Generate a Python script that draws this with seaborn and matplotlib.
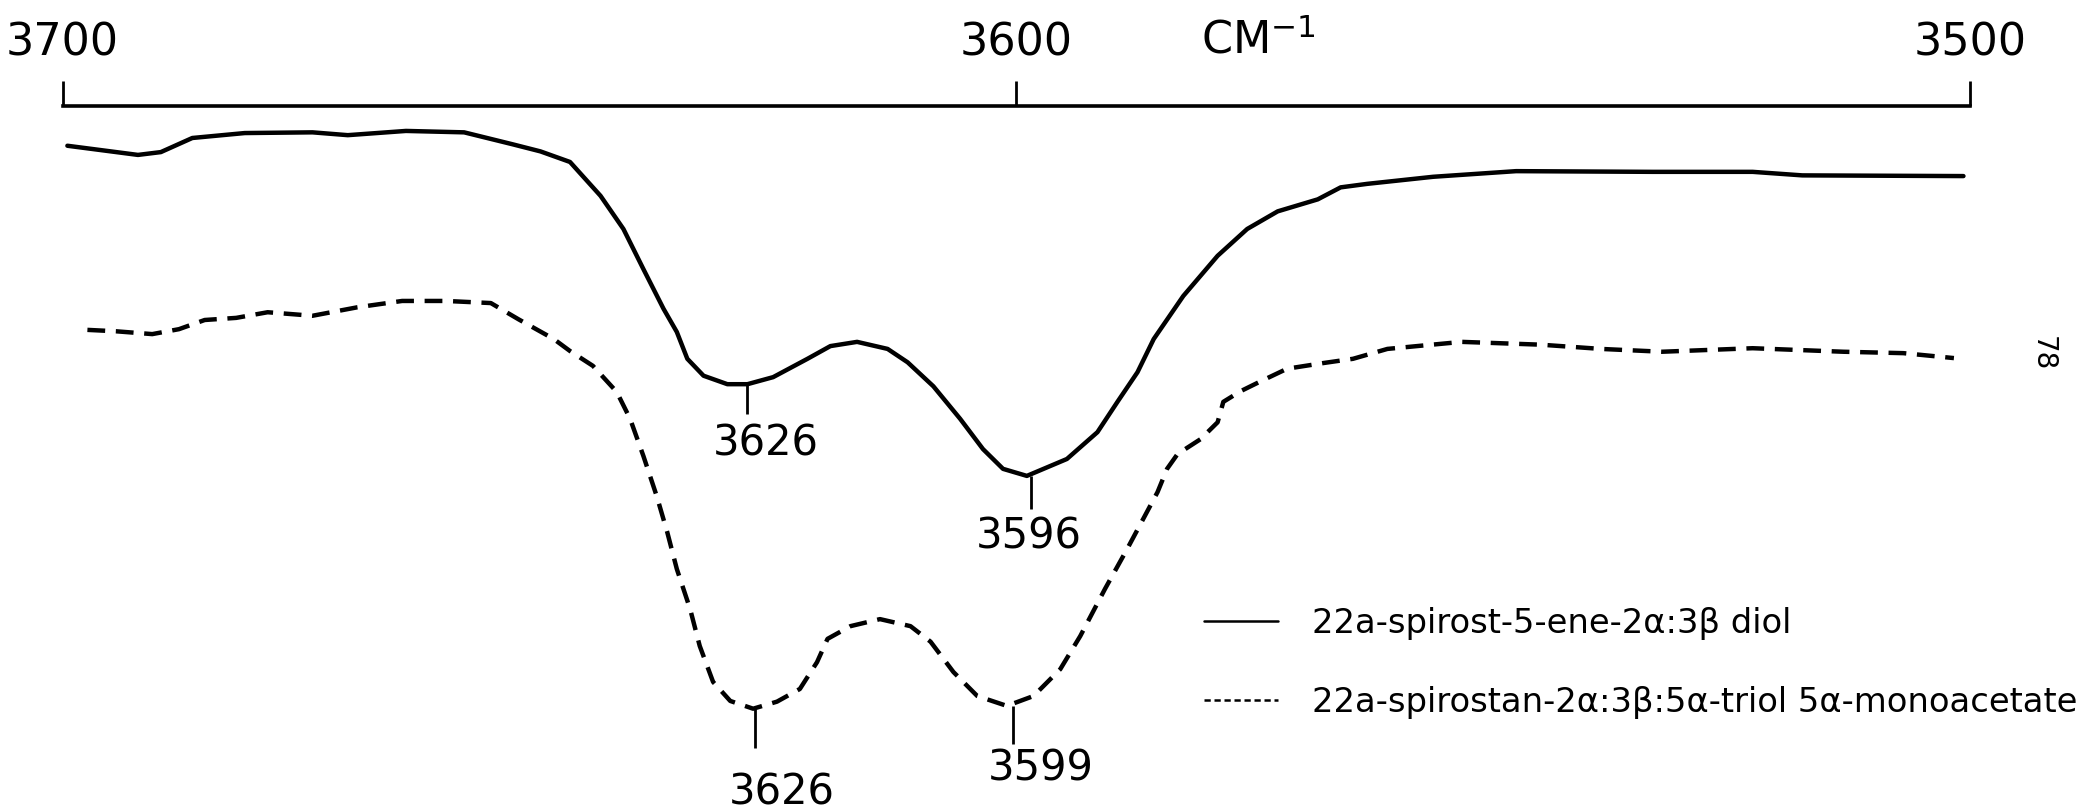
import numpy as np
import pandas as pd
import matplotlib.pyplot as plt
import seaborn as sns
from matplotlib.lines import Line2D

# solid trace: 22a-spirost-5-ene-2a:3b diol  (wavenumber cm-1, transmittance in arbitrary %)
diol_wn = [3699.5, 3692.1, 3689.7, 3686.4, 3680.9, 3673.8, 3670.1, 3664.0, 3657.9, 3652.8,
           3649.9, 3646.8, 3643.6, 3641.2, 3639.1, 3637.0, 3635.6, 3634.5, 3632.8, 3630.3,
           3628.2, 3625.5, 3621.9, 3619.5, 3616.7, 3613.5, 3611.4, 3608.7, 3605.9, 3603.5,
           3601.4, 3598.9, 3594.7, 3591.5, 3589.4, 3587.3, 3585.6, 3582.5, 3578.9, 3575.8,
           3572.6, 3568.4, 3566.0, 3563.2, 3556.3, 3547.6, 3533.3, 3522.8, 3517.6, 3500.7]
diol_t = [94.3, 93.0, 93.4, 95.4, 96.1, 96.2, 95.8, 96.4, 96.2, 94.5,
          93.5, 92.0, 87.2, 82.5, 76.8, 71.2, 67.9, 64.1, 61.7, 60.5,
          60.5, 61.5, 64.1, 65.9, 66.5, 65.5, 63.6, 60.2, 55.6, 51.3,
          48.5, 47.5, 49.9, 53.7, 58.0, 62.2, 66.9, 73.0, 78.7, 82.5,
          85.0, 86.7, 88.4, 88.9, 89.9, 90.7, 90.6, 90.6, 90.1, 90.0]

# dashed trace: 22a-spirostan-2a:3b:5a-triol 5a-monoacetate
acet_wn = [3697.4, 3694.4, 3690.6, 3687.8, 3685.1, 3681.8, 3678.5, 3673.8, 3669.1, 3664.4,
           3659.8, 3655.1, 3652.2, 3648.5, 3646.8, 3644.4, 3641.9, 3640.5, 3639.1, 3637.7,
           3636.6, 3635.6, 3634.2, 3633.2, 3631.8, 3630.0, 3627.6, 3625.1, 3622.7, 3620.9,
           3619.8, 3617.4, 3614.3, 3611.1, 3609.0, 3606.6, 3604.1, 3601.0, 3598.2, 3595.4,
           3593.3, 3590.7, 3588.4, 3586.7, 3585.2, 3584.2, 3583.1, 3580.7, 3578.9, 3578.3,
           3576.5, 3574.4, 3571.6, 3567.8, 3564.7, 3561.1, 3558.0, 3553.3, 3545.0, 3538.7,
           3532.3, 3522.8, 3513.3, 3507.0, 3501.7]
acet_t = [68.2, 68.0, 67.6, 68.3, 69.6, 69.9, 70.7, 70.2, 71.4, 72.3,
          72.3, 72.0, 69.7, 66.9, 65.2, 63.1, 59.4, 55.6, 50.3, 44.6,
          39.5, 34.3, 28.6, 23.4, 18.3, 15.6, 14.5, 15.5, 17.3, 21.1,
          24.4, 26.2, 27.2, 26.2, 24.0, 19.7, 16.3, 14.9, 16.3, 20.1,
          24.8, 31.5, 37.1, 41.4, 45.2, 48.5, 50.6, 52.7, 55.1, 58.0,
          59.5, 60.9, 62.7, 63.5, 64.1, 65.5, 65.9, 66.5, 66.1, 65.5,
          65.1, 65.6, 65.1, 64.9, 64.2]

names = ["22a-spirost-5-ene-2α:3β diol", "22a-spirostan-2α:3β:5α-triol 5α-monoacetate"]

# marked band minima (tick from curve down to label)
peak_wn = [3628.2, 3598.5, 3627.4, 3600.4]
peak_top = [60.5, 47.5, 14.5, 14.9]
peak_bottom = [56.3, 42.8, 8.9, 9.5]
peak_labels = ["3626", "3596", "3626", "3599"]
label_offsets = [(13, -21), (-1, -19), (19, -31), (20, -17)]

tick_wn = [3700, 3600, 3500]

df = pd.concat([
    pd.DataFrame({"wn": diol_wn, "T": diol_t, "compound": names[0]}),
    pd.DataFrame({"wn": acet_wn, "T": acet_t, "compound": names[1]}),
])

sns.set_theme(style="white")
plt.rcParams["font.family"] = ["DejaVu Sans"]
plt.rcParams["text.color"] = "black"
plt.rcParams["axes.labelcolor"] = "black"

fig = plt.figure(figsize=(20.87, 8.12), dpi=100)
ax = fig.add_axes([0.0300, 0.0, 0.914, 0.8688])

sns.lineplot(data=df, x="wn", y="T", hue="compound", style="compound",
             palette=["black", "black"], dashes={names[0]: "", names[1]: (4.0, 2.4)},
             estimator=None, sort=False, linewidth=3.2, legend=False, ax=ax)

ax.set_xlim(3700, 3500)
ax.set_ylim(0, 100)

# axis drawn only along the top, ticks pointing up
for side in ["left", "right", "bottom"]:
    ax.spines[side].set_visible(False)
ax.spines["top"].set_linewidth(2.6)
ax.spines["top"].set_color("black")
ax.xaxis.tick_top()
ax.set_xticks(tick_wn)
ax.set_xticklabels([str(t) for t in tick_wn])
ax.tick_params(axis="x", direction="out", length=18, width=2, pad=12,
               labelsize=32, colors="black")
ax.set_yticks([])
ax.set_ylabel("")
ax.set_xlabel("CM$^{-1}$", fontsize=32, color="black")
ax.xaxis.set_label_position("top")
ax.xaxis.set_label_coords(0.627, 1.075)

# band labels
ax.vlines(peak_wn, peak_bottom, peak_top, color="black", linewidth=2)
for w, b, lab, off in zip(peak_wn, peak_bottom, peak_labels, label_offsets):
    ax.annotate(lab, xy=(w, b), xytext=off, textcoords="offset points",
                ha="center", va="center", fontsize=30, color="black")

handles = [Line2D([], [], color="black", linewidth=1.8),
           Line2D([], [], color="black", linewidth=1.8, dashes=(2.5, 1.5))]
fig.legend(handles, names, loc="center left", bbox_to_anchor=(0.577, 0.183),
           frameon=False, fontsize=24.3, handlelength=2.2, handletextpad=1.0,
           labelspacing=1.36, borderpad=0, borderaxespad=0, labelcolor="black")

fig.text(0.979, 0.565, "78", rotation=-90, ha="center", va="center", fontsize=20,
         color="black")

fig.savefig("out.png", dpi=100, facecolor="white")
